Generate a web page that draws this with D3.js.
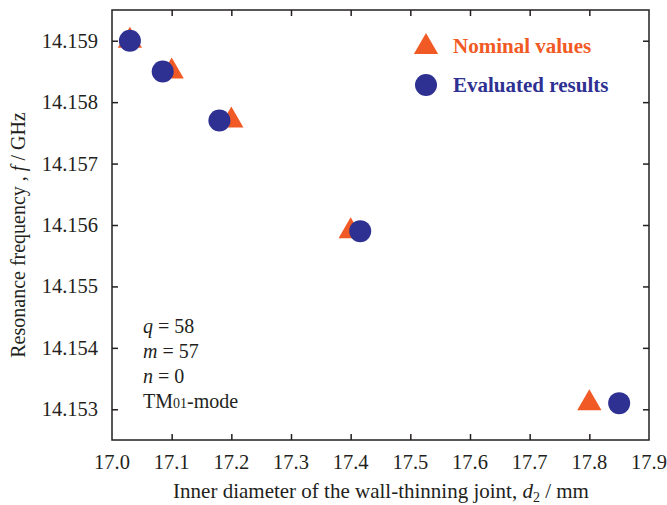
<!DOCTYPE html>
<html>
<head>
<meta charset="utf-8">
<script src="https://cdn.jsdelivr.net/npm/d3@7"></script>
<style>
  body { margin: 0; background: #fff; }
  text { font-family: "Liberation Serif", "Times New Roman", serif; fill: #231f20; }
</style>
</head>
<body>
<div id="chart"></div>
<script>
// data
const nominalD = [17.03, 17.1, 17.2, 17.4, 17.8];
const nominalF = [14.159, 14.1585, 14.1577, 14.1559, 14.1531];
const evaluatedD = [17.03, 17.085, 17.18, 17.416, 17.85];
const evaluatedF = [14.159, 14.1585, 14.1577, 14.1559, 14.1531];
const xTicks = [17.0, 17.1, 17.2, 17.3, 17.4, 17.5, 17.6, 17.7, 17.8, 17.9];
const yTicks = [14.153, 14.154, 14.155, 14.156, 14.157, 14.158, 14.159];
const notes = ["q", "m", "n"];
const noteValues = ["58", "57", "0"];

const W = 667, H = 505;
const margin = {top: 10, right: 18, bottom: 65, left: 112};
const orange = "#f15a24", navy = "#2e3192";

const svg = d3.select("#chart").append("svg")
  .attr("width", W).attr("height", H);

const x = d3.scaleLinear().domain([17.0, 17.9]).range([margin.left, W - margin.right]);
const y = d3.scaleLinear().domain([14.1525, 14.1595]).range([H - margin.bottom, margin.top]);

// frame
svg.append("rect")
  .attr("x", margin.left).attr("y", margin.top)
  .attr("width", W - margin.left - margin.right)
  .attr("height", H - margin.top - margin.bottom)
  .attr("fill", "none").attr("stroke", "#231f20").attr("stroke-width", 1.5);

// axes, ticks pointing inward
const tl = 6;
const innerX = xTicks.filter(d => d > 17.0 && d < 17.9);
svg.append("g")
  .attr("transform", `translate(0,${H - margin.bottom})`)
  .call(d3.axisBottom(x).tickValues(innerX).tickSize(-tl).tickFormat(""))
  .call(g => g.select(".domain").remove());
svg.append("g")
  .attr("transform", `translate(0,${margin.top})`)
  .call(d3.axisTop(x).tickValues(innerX).tickSize(-tl).tickFormat(""))
  .call(g => g.select(".domain").remove());
svg.append("g")
  .attr("transform", `translate(${margin.left},0)`)
  .call(d3.axisLeft(y).tickValues(yTicks).tickSize(-tl).tickFormat(""))
  .call(g => g.select(".domain").remove());
svg.append("g")
  .attr("transform", `translate(${W - margin.right},0)`)
  .call(d3.axisRight(y).tickValues(yTicks).tickSize(-tl).tickFormat(""))
  .call(g => g.select(".domain").remove());
svg.selectAll(".tick line").attr("stroke", "#231f20").attr("stroke-width", 1.5);

// tick labels
svg.append("g").selectAll("text")
  .data(xTicks).join("text")
  .attr("x", d => x(d)).attr("y", 469)
  .attr("text-anchor", "middle").attr("font-size", 20.5)
  .text(d => d3.format(".1f")(d));
svg.append("g").selectAll("text")
  .data(yTicks).join("text")
  .attr("x", 98).attr("y", d => y(d) + 7)
  .attr("text-anchor", "end").attr("font-size", 20.5)
  .text(d => d3.format(".3f")(d));

// axis titles
const xt = svg.append("text")
  .attr("x", 381).attr("y", 498)
  .attr("text-anchor", "middle").attr("font-size", 21);
xt.append("tspan").text("Inner diameter of the wall-thinning joint, ");
xt.append("tspan").attr("font-style", "italic").text("d");
xt.append("tspan").attr("font-size", 14).attr("dy", 4).text("2");
xt.append("tspan").attr("dy", -4).text(" / mm");

const yt = svg.append("text")
  .attr("transform", "translate(25,235) rotate(-90)")
  .attr("text-anchor", "middle").attr("font-size", 20);
yt.append("tspan").text("Resonance frequency , ");
yt.append("tspan").attr("font-style", "italic").text("f");
yt.append("tspan").text(" / GHz");

// markers
const tri = d3.symbol().type(d3.symbolTriangle).size(255);
svg.append("g").selectAll("path")
  .data(nominalD.map((d, i) => [d, nominalF[i]])).join("path")
  .attr("transform", d => `translate(${x(d[0])},${y(d[1])})`)
  .attr("d", tri).attr("fill", orange);
svg.append("g").selectAll("circle")
  .data(evaluatedD.map((d, i) => [d, evaluatedF[i]])).join("circle")
  .attr("cx", d => x(d[0])).attr("cy", d => y(d[1]))
  .attr("r", 11).attr("fill", navy);

// legend
svg.append("path").attr("transform", "translate(426,47)").attr("d", tri).attr("fill", orange);
svg.append("circle").attr("cx", 426).attr("cy", 85).attr("r", 11).attr("fill", navy);
svg.append("text").attr("x", 453).attr("y", 53).attr("font-size", 21)
  .attr("font-weight", "bold").style("fill", orange).text("Nominal values");
svg.append("text").attr("x", 453).attr("y", 92).attr("font-size", 21)
  .attr("font-weight", "bold").style("fill", navy).text("Evaluated results");

// mode annotation
notes.forEach((n, i) => {
  const t = svg.append("text").attr("x", 143).attr("y", 333 + i * 25).attr("font-size", 20);
  t.append("tspan").attr("font-style", "italic").text(n);
  t.append("tspan").text(" = " + noteValues[i]);
});
const tm = svg.append("text").attr("x", 143).attr("y", 408).attr("font-size", 20);
tm.append("tspan").text("TM");
tm.append("tspan").attr("font-size", 14).text("01");
tm.append("tspan").text("-mode");
</script>
</body>
</html>
